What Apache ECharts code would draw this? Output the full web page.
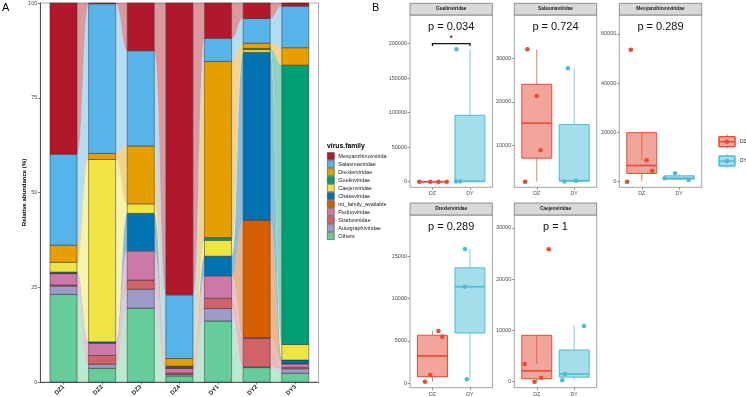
<!DOCTYPE html>
<html><head><meta charset="utf-8">
<script src="https://cdn.jsdelivr.net/npm/echarts@6/dist/echarts.min.js"></script>
<style>html,body{margin:0;padding:0;background:#fff}#c{width:746px;height:397px}</style>
</head><body><div id="c"></div>
<script>
// ---------------- DATA ----------------
const samples = ['DZ1','DZ2','DZ3','DZ4','DY1','DY2','DY3'];
const families = ['Mesyanzhinovvirida','Salasmaviridae','Drexlerviridae','Guelinviridae','Caejenviridae','Chaseviridae','no_family_available','Peduoviridae','Straboviridae','Autographiviridae','Others'];
const Mesyanzhinovviridae = [39.9, 0.2, 12.6, 77.0, 9.3, 4.1, 0.8];
const Salasmaviridae      = [24.0, 39.5, 25.1, 16.8, 6.1, 6.5, 11.0];
const Drexlerviridae      = [4.5, 1.6, 15.3, 2.0, 46.5, 1.4, 4.6];
const Guelinviridae       = [0, 0, 0, 0, 0.7, 0.3, 73.7];
const Caejenviridae       = [2.6, 48.1, 2.5, 0.1, 4.2, 0.7, 4.1];
const Chaseviridae        = [0.3, 0.4, 9.9, 0.4, 5.2, 44.3, 0.9];
const no_family_available = [0.1, 0, 0, 0.1, 0, 31.0, 0.1];
const Peduoviridae        = [3.0, 3.2, 7.7, 1.2, 5.9, 0.2, 1.0];
const Straboviridae       = [0.3, 2.3, 2.4, 0.4, 2.7, 7.5, 0.3];
const Autographiviridae   = [2.2, 1.1, 5.0, 0.4, 3.3, 0.2, 1.2];
const Others              = [23.1, 3.6, 19.5, 1.6, 16.1, 3.8, 2.3];
const familyValues = [Mesyanzhinovviridae, Salasmaviridae, Drexlerviridae, Guelinviridae, Caejenviridae, Chaseviridae, no_family_available, Peduoviridae, Straboviridae, Autographiviridae, Others];
const yTicksA = [0, 25, 50, 75, 100];

const groups = ['DZ', 'DY'];
const panelTitles = ['Guelinviridae', 'Salasmaviridae', 'Mesyanzhinovviridae', 'Drexlerviridae', 'Caejenviridae'];
const pLabels = ['p = 0.034', 'p = 0.724', 'p = 0.289', 'p = 0.289', 'p = 1'];
const guelinDZ = [0, 0, 0, 0];            const guelinDY = [500, 200, 192000];
const salasmaDZ = [32060, 21370, 8950, 1760]; const salasmaDY = [27710, 1800, 2000];
const mesyanDZ = [53550, 8680, 4460, 0];  const mesyanDY = [3400, 1380, 690];
const drexlerDZ = [6170, 5500, 980, 190]; const drexlerDY = [15840, 11390, 470];
const caejenDZ = [25810, 3450, 780, 0];   const caejenDY = [10860, 1500, 270];
const ticksGuelin = [0, 50000, 100000, 150000, 200000];
const ticksSalasma = [10000, 20000, 30000];
const ticksMesyan = [0, 20000, 40000, 60000];
const ticksDrexler = [0, 5000, 10000, 15000];
const ticksCaejen = [0, 10000, 20000, 30000];
const sigBracket = [0, 1, 200000]; // DZ vs DY in Guelinviridae, '*'

// jitter offsets (category units) of the points
const jitGuelin = [[-0.35, -0.06, 0.16, 0.38], [-0.26, -0.37, -0.36]];
const jitSalasma = [[-0.25, 0, 0.1, -0.31], [-0.17, -0.26, 0.05]];
const jitMesyan = [[-0.29, 0.13, 0.28, -0.39], [-0.11, -0.39, 0.25]];
const jitDrexler = [[0.16, 0.26, -0.06, -0.2], [-0.13, -0.14, -0.08]];
const jitCaejen = [[0.32, -0.32, 0.12, -0.06], [0.26, -0.25, -0.32]];

// ---------------- STYLE / LAYOUT ----------------
const FONT = 'Liberation Sans, Arial, sans-serif';
const famColors = ['#B2182B','#56B4E9','#E69F00','#009E73','#F0E442','#0072B2','#D55E00','#CC79A7','#CF6368','#9E9AC8','#66CC99'];
const grpColors = ['#E64B35', '#4DBBD5'];
const grpFills = ['rgba(230,75,53,0.5)', 'rgba(77,187,213,0.5)'];
const BAR_HALF = 0.35;
const BOX_HALF = 0.4;

const panels = [
  {dz: guelinDZ, dy: guelinDY, ticks: ticksGuelin, jit: jitGuelin, min: -8100, max: 241600, col: 0, row: 0},
  {dz: salasmaDZ, dy: salasmaDY, ticks: ticksSalasma, jit: jitSalasma, min: 480, max: 39900, col: 1, row: 0},
  {dz: mesyanDZ, dy: mesyanDY, ticks: ticksMesyan, jit: jitMesyan, min: -2270, max: 67630, col: 2, row: 0},
  {dz: drexlerDZ, dy: drexlerDY, ticks: ticksDrexler, jit: jitDrexler, min: -520, max: 19850, col: 0, row: 1},
  {dz: caejenDZ, dy: caejenDY, ticks: ticksCaejen, jit: jitCaejen, min: -1170, max: 32490, col: 1, row: 1}
];
const colLeft = [410, 514.3, 619.3];
const PW = 82.4;
const rowStripTop = [3.3, 203];
const rowTop = [15, 215];
const rowBottom = [187.3, 387.7];

// ---------------- helpers ----------------
function quant(arr, p) {
  const s = [...arr].sort((a, b) => a - b);
  const h = (s.length - 1) * p, lo = Math.floor(h);
  const hi = Math.min(lo + 1, s.length - 1);
  return s[lo] + (h - lo) * (s[hi] - s[lo]);
}
function boxStats(arr) {
  const q1 = quant(arr, 0.25), med = quant(arr, 0.5), q3 = quant(arr, 0.75);
  const iqr = q3 - q1;
  const inside = arr.filter(v => v >= q1 - 1.5 * iqr && v <= q3 + 1.5 * iqr);
  return [q1, med, q3, Math.min(...inside), Math.max(...inside)];
}
const plainNum = v => String(Math.round(v));

// stacked segments & flows
const stackOrder = families.map((_, i) => i).reverse();
const cum = samples.map(() => ({}));
const segments = [];
samples.forEach((s, si) => {
  let base = 0;
  stackOrder.forEach(f => {
    const v = familyValues[f][si];
    cum[si][f] = [base, base + v];
    if (v > 0) segments.push([si, base, base + v, f]);
    base += v;
  });
});
const flows = [];
for (let si = 0; si < samples.length - 1; si++) {
  stackOrder.forEach(f => {
    const a = cum[si][f], b = cum[si + 1][f];
    if (a[1] - a[0] > 0 || b[1] - b[0] > 0) flows.push([si, a[0], a[1], b[0], b[1], f]);
  });
}

function renderBar(params, api) {
  const x = api.value(0), y0 = api.value(1), y1 = api.value(2), f = api.value(3);
  const p0 = api.coord([x - BAR_HALF, y1]);
  const p1 = api.coord([x + BAR_HALF, y0]);
  return {type: 'rect', shape: {x: p0[0], y: p0[1], width: p1[0] - p0[0], height: p1[1] - p0[1]},
    style: {fill: famColors[f], stroke: '#2e2e2e', lineWidth: 0.5}};
}
function bez(pa, pb, t) {
  const dx = pb[0] - pa[0];
  const c1 = pa[0] + dx / 2, c2 = pb[0] - dx / 2;
  const u = 1 - t;
  const x = u*u*u*pa[0] + 3*u*u*t*c1 + 3*u*t*t*c2 + t*t*t*pb[0];
  const wa = u*u*u + 3*u*u*t;
  const y = wa * pa[1] + (1 - wa) * pb[1];
  return [x, y];
}
function renderFlow(params, api) {
  const i = api.value(0), a0 = api.value(1), a1 = api.value(2), b0 = api.value(3), b1 = api.value(4), f = api.value(5);
  const xa = i + BAR_HALF, xb = i + 1 - BAR_HALF;
  const ta = api.coord([xa, a1]), tb = api.coord([xb, b1]);
  const ba = api.coord([xa, a0]), bb = api.coord([xb, b0]);
  const pts = [];
  const N = 30;
  for (let k = 0; k <= N; k++) pts.push(bez(ta, tb, k / N));
  for (let k = N; k >= 0; k--) pts.push(bez(ba, bb, k / N));
  return {type: 'polygon', shape: {points: pts}, style: {fill: famColors[f], opacity: 0.45}};
}
function renderBox(params, api) {
  const g = api.value(0), q1 = api.value(1), med = api.value(2), q3 = api.value(3), lo = api.value(4), hi = api.value(5);
  const col = grpColors[g];
  const tl = api.coord([g - BOX_HALF, q3]), br = api.coord([g + BOX_HALF, q1]);
  const m = api.coord([g, med]), pHi = api.coord([g, hi]), pLo = api.coord([g, lo]);
  const ml = api.coord([g - BOX_HALF, med]), mr = api.coord([g + BOX_HALF, med]);
  return {type: 'group', children: [
    {type: 'line', shape: {x1: m[0], y1: pHi[1], x2: m[0], y2: tl[1]}, style: {stroke: col, lineWidth: 1, opacity: 0.75}},
    {type: 'line', shape: {x1: m[0], y1: br[1], x2: m[0], y2: pLo[1]}, style: {stroke: col, lineWidth: 1, opacity: 0.75}},
    {type: 'rect', shape: {x: tl[0], y: tl[1], width: br[0] - tl[0], height: Math.max(br[1] - tl[1], 0.01)},
      style: {fill: grpFills[g], stroke: col, lineWidth: 1}},
    {type: 'line', shape: {x1: ml[0], y1: ml[1], x2: mr[0], y2: mr[1]}, style: {stroke: col, lineWidth: 1.6}}
  ]};
}
function renderSig(params, api) {
  const x0 = api.value(0), x1 = api.value(1), y = api.value(2);
  const a = api.coord([x0, y]), b = api.coord([x1, y]);
  const t = 2.2;
  return {type: 'group', children: [
    {type: 'polyline', shape: {points: [[a[0], a[1] + t], [a[0], a[1]], [b[0], b[1]], [b[0], b[1] + t]]},
      style: {stroke: '#111', lineWidth: 1.3, fill: null}},
    {type: 'text', x: (a[0] + b[0]) / 2, y: a[1] - 1, style: {text: '*', fontSize: 9, fontFamily: FONT, fill: '#111', align: 'center', verticalAlign: 'bottom'}}
  ]};
}

// ---------------- OPTION ----------------
const grids = [{left: 40.3, top: 3, width: 278.2, height: 379, show: true, borderColor: '#8a8a8a', borderWidth: 0.7, outerBoundsMode: 'none'}];
const xAxes = [{
  gridIndex: 0, type: 'value', min: -0.6, max: 6.6,
  axisLine: {show: true, onZero: false, lineStyle: {color: '#333', width: 0.8}},
  axisTick: {show: true, customValues: samples.map((_, i) => i), length: 2.5, lineStyle: {color: '#333', width: 0.6}},
  axisLabel: {show: true, customValues: samples.map((_, i) => i), formatter: v => samples[Math.round(v)] || '',
    rotate: 45, fontSize: 6, fontWeight: 'bold', color: '#1a1a1a', fontFamily: FONT, margin: 4},
  splitLine: {show: false}
}];
const yAxes = [{
  gridIndex: 0, type: 'value', min: 0, max: 100,
  axisLine: {show: true, onZero: false, lineStyle: {color: '#333', width: 0.8}},
  axisTick: {show: true, customValues: yTicksA, length: 2.5, lineStyle: {color: '#333', width: 0.6}},
  axisLabel: {show: true, customValues: yTicksA, formatter: plainNum, fontSize: 5.5, color: '#4d4d4d', fontFamily: FONT, margin: 3},
  splitLine: {show: false}
}];
const series = [
  {type: 'custom', name: 'flows', xAxisIndex: 0, yAxisIndex: 0, renderItem: renderFlow, data: flows, z: 1, silent: true, encode: {x: 0, y: 1}},
  {type: 'custom', name: 'bars', xAxisIndex: 0, yAxisIndex: 0, renderItem: renderBar, data: segments, z: 2, silent: true, encode: {x: 0, y: 1}}
];
const graphics = [
  {type: 'text', x: 2, y: 8, style: {text: 'A', fontSize: 11, fontFamily: FONT, fill: '#000', verticalAlign: 'middle'}},
  {type: 'text', x: 372, y: 8, style: {text: 'B', fontSize: 11, fontFamily: FONT, fill: '#000', verticalAlign: 'middle'}},
  {type: 'text', x: 24, y: 192.5, rotation: Math.PI / 2,
    style: {text: 'Relative abundance (%)', fontSize: 6, fontWeight: 'bold', fontFamily: FONT, fill: '#000', align: 'center', verticalAlign: 'middle'}},
  {type: 'text', x: 327, y: 145.7, style: {text: 'virus.family', fontSize: 6.8, fontWeight: 'bold', fontFamily: FONT, fill: '#000', verticalAlign: 'middle'}}
];
families.forEach((name, i) => {
  graphics.push({type: 'rect', shape: {x: 327.3, y: 152.6 + 8 * i, width: 7, height: 7}, style: {fill: famColors[i], stroke: '#333', lineWidth: 0.5}});
  graphics.push({type: 'text', x: 338.3, y: 156.1 + 8 * i, style: {text: name, fontSize: 5.5, fontFamily: FONT, fill: '#1a1a1a', verticalAlign: 'middle'}});
});

panels.forEach((p, k) => {
  const gi = k + 1;
  const left = colLeft[p.col], top = rowTop[p.row], bottom = rowBottom[p.row];
  grids.push({left: left, top: top, width: PW, height: bottom - top, show: true, borderColor: '#7a7a7a', borderWidth: 0.7, outerBoundsMode: 'none'});
  xAxes.push({
    gridIndex: gi, type: 'value', min: -0.6, max: 1.6,
    axisLine: {show: false, onZero: false},
    axisTick: {show: true, customValues: [0, 1], length: 2.5, lineStyle: {color: '#555', width: 0.6}},
    axisLabel: {show: true, customValues: [0, 1], formatter: v => groups[Math.round(v)] || '', fontSize: 5.2, color: '#4d4d4d', fontFamily: FONT, margin: 4},
    splitLine: {show: false}
  });
  yAxes.push({
    gridIndex: gi, type: 'value', min: p.min, max: p.max,
    axisLine: {show: false, onZero: false},
    axisTick: {show: true, customValues: p.ticks, length: 2.5, lineStyle: {color: '#555', width: 0.6}},
    axisLabel: {show: true, customValues: p.ticks, formatter: plainNum, fontSize: 5.5, color: '#4d4d4d', fontFamily: FONT, margin: 3},
    splitLine: {show: false}
  });
  const sets = [p.dz, p.dy];
  series.push({type: 'custom', xAxisIndex: gi, yAxisIndex: gi, renderItem: renderBox, z: 2, silent: true,
    encode: {x: 0, y: 1},
    data: sets.map((arr, g) => [g].concat(boxStats(arr)))});
  sets.forEach((arr, g) => {
    series.push({type: 'scatter', xAxisIndex: gi, yAxisIndex: gi, symbol: 'circle', symbolSize: 4.6, z: 3, silent: true,
      itemStyle: {color: grpColors[g], opacity: 1},
      data: arr.map((v, j) => [g + p.jit[g][j], v])});
  });
  // strip
  graphics.push({type: 'rect', shape: {x: left, y: rowStripTop[p.row], width: PW, height: top - rowStripTop[p.row]},
    style: {fill: '#d9d9d9', stroke: '#555', lineWidth: 0.6}});
  graphics.push({type: 'text', x: left + PW / 2, y: (rowStripTop[p.row] + top) / 2,
    style: {text: panelTitles[k], fontSize: 4.8, fontWeight: 'bold', fontFamily: FONT, fill: '#1a1a1a', align: 'center', verticalAlign: 'middle'}});
  graphics.push({type: 'text', x: left + PW / 2, y: top + 11.7,
    style: {text: pLabels[k], fontSize: 11, fontFamily: FONT, fill: '#111', align: 'center', verticalAlign: 'middle'}});
});
series.push({type: 'custom', xAxisIndex: 1, yAxisIndex: 1, renderItem: renderSig, z: 4, silent: true,
  encode: {x: 0, y: 2}, data: [sigBracket]});

// B legend
groups.forEach((g, i) => {
  const cy = 141.7 + 19.3 * i, cx = 727;
  graphics.push({type: 'line', shape: {x1: cx, y1: cy - 7.5, x2: cx, y2: cy + 7.5}, style: {stroke: grpColors[i], lineWidth: 0.9, opacity: 0.75}});
  graphics.push({type: 'rect', shape: {x: cx - 8, y: cy - 5, width: 16, height: 10}, style: {fill: '#fff', stroke: grpColors[i], lineWidth: 1}});
  graphics.push({type: 'rect', shape: {x: cx - 8, y: cy - 5, width: 16, height: 10}, style: {fill: grpFills[i], stroke: grpColors[i], lineWidth: 1}});
  graphics.push({type: 'line', shape: {x1: cx - 8, y1: cy, x2: cx + 8, y2: cy}, style: {stroke: grpColors[i], lineWidth: 1.4}});
  graphics.push({type: 'circle', shape: {cx: cx, cy: cy, r: 2.3}, style: {fill: grpColors[i]}});
  graphics.push({type: 'text', x: 740, y: cy, style: {text: g, fontSize: 5, fontFamily: FONT, fill: '#1a1a1a', verticalAlign: 'middle'}});
});

const chart = echarts.init(document.getElementById('c'), null, {renderer: 'canvas'});
chart.setOption({
  animation: false,
  backgroundColor: '#fff',
  textStyle: {fontFamily: FONT},
  grid: grids, xAxis: xAxes, yAxis: yAxes, series: series, graphic: graphics
});
</script></body></html>
